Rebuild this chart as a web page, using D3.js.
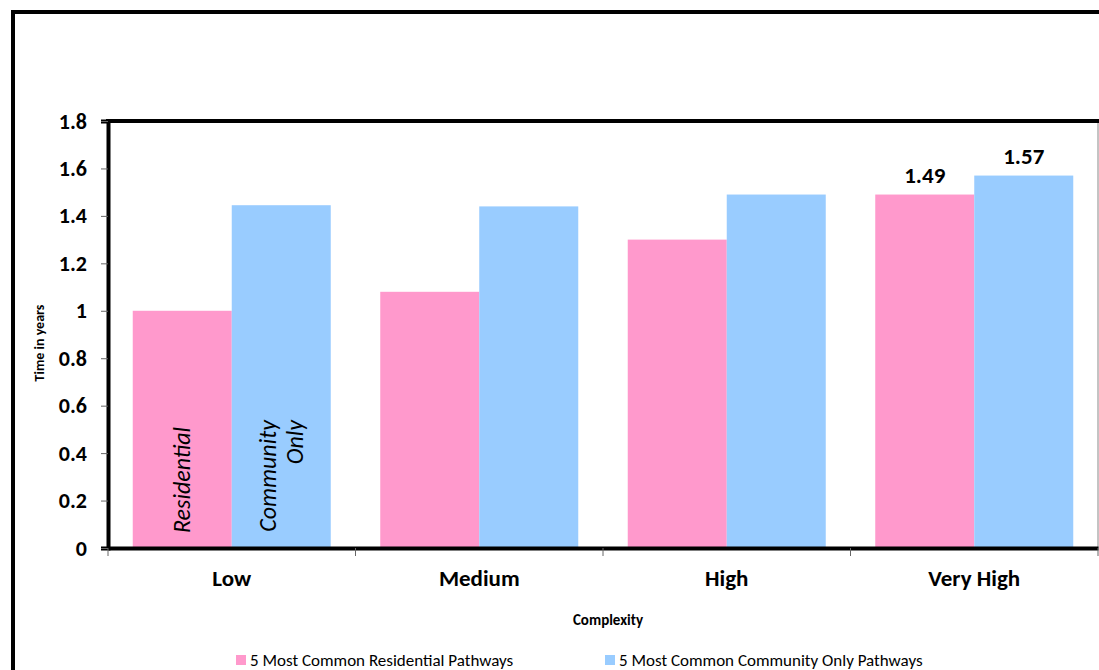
<!DOCTYPE html>
<html>
<head>
<meta charset="utf-8">
<script src="https://cdn.jsdelivr.net/npm/d3@7"></script>
<style>
  html, body { margin: 0; padding: 0; background: #fff; }
  svg { display: block; font-family: Carlito, Calibri, Lato, "Open Sans", sans-serif; }
</style>
</head>
<body>
<svg id="chart" width="1099" height="670"></svg>
<script>
// Complexity levels and mean time (years) for each pathway group
const categories = ["Low", "Medium", "High", "Very High"];
const residential = [1.00, 1.08, 1.30, 1.49];
const communityOnly = [1.445, 1.44, 1.49, 1.57];
const seriesNames = ["5 Most Common Residential Pathways", "5 Most Common Community Only Pathways"];
const seriesColors = ["#FF99CC", "#99CCFF"];
const yTicks = [0, 0.2, 0.4, 0.6, 0.8, 1, 1.2, 1.4, 1.6, 1.8];
// Only the "Very High" group carries value labels
const labelledCategory = "Very High";

const svg = d3.select("#chart");
const plot = { left: 108, right: 1098, top: 121, bottom: 548 };

const x0 = d3.scaleBand().domain(categories).range([plot.left, plot.right]).paddingInner(0).paddingOuter(0);
const x1 = d3.scaleBand().domain([0, 1]).range([0, x0.bandwidth()]).paddingOuter(0.25).paddingInner(0);
const y = d3.scaleLinear().domain([0, 1.8]).range([plot.bottom, plot.top]);

// Outer chart frame
svg.append("path")
  .attr("d", `M13,${670 + 10} L13,12 L${1099 + 10},12`)
  .attr("fill", "none").attr("stroke", "#000").attr("stroke-width", 4);

// Bars
const rows = categories.map((c, i) => ({ cat: c, vals: [residential[i], communityOnly[i]] }));
const groups = svg.append("g").selectAll("g").data(rows).join("g")
  .attr("transform", d => `translate(${x0(d.cat)},0)`);
groups.selectAll("rect").data(d => d.vals.map((v, k) => ({ v, k, cat: d.cat })))
  .join("rect")
  .attr("x", d => x1(d.k))
  .attr("width", x1.bandwidth())
  .attr("y", d => y(d.v))
  .attr("height", d => y(0) - y(d.v))
  .attr("fill", d => seriesColors[d.k]);

// Value labels
groups.selectAll("text.val").data(d => d.cat === labelledCategory ? d.vals.map((v, k) => ({ v, k })) : [])
  .join("text").attr("class", "val")
  .attr("x", d => x1(d.k) + x1.bandwidth() / 2)
  .attr("y", d => y(d.v) - 12)
  .attr("text-anchor", "middle")
  .attr("font-size", 23).attr("font-weight", "bold")
  .text(d => d3.format(".2f")(d.v));

// In-bar series captions for the first group
const firstX = x0(categories[0]);
svg.append("text")
  .attr("transform", `translate(${firstX + x1(0) + x1.bandwidth() / 2 + 8},533) rotate(-90)`)
  .attr("font-size", 24).attr("font-style", "italic")
  .text("Residential");
const comm = svg.append("text")
  .attr("transform", `translate(${firstX + x1(1) + x1.bandwidth() / 2 - 5},420) rotate(-90)`)
  .attr("font-size", 24).attr("font-style", "italic").attr("text-anchor", "end");
comm.append("tspan").attr("x", 0).attr("dy", 0).text("Community");
comm.append("tspan").attr("x", 0).attr("dy", 27).text("Only");

// Plot frame: right side thin grey
svg.append("line")
  .attr("x1", plot.right).attr("x2", plot.right).attr("y1", plot.top).attr("y2", plot.bottom)
  .attr("stroke", "#888").attr("stroke-width", 1);
svg.append("line")
  .attr("x1", plot.left - 2).attr("x2", plot.right + 1).attr("y1", plot.top).attr("y2", plot.top)
  .attr("stroke", "#000").attr("stroke-width", 4);

// Y axis
const yAxis = d3.axisLeft(y).tickValues(yTicks).tickSize(7).tickPadding(14)
  .tickFormat(d => d3.format("~g")(d));
const gy = svg.append("g").attr("transform", `translate(${plot.left},0)`).call(yAxis);
gy.select(".domain").attr("stroke", "#000").attr("stroke-width", 4);
gy.selectAll(".tick line").attr("stroke", "#666").attr("stroke-width", 1);
gy.selectAll(".tick text").attr("font-size", 22).attr("font-weight", "bold")
  .attr("fill", "#000").attr("font-family", "Carlito, Calibri, Lato, sans-serif");

// X axis
const xAxis = d3.axisBottom(x0).tickSize(0).tickPadding(22);
const gx = svg.append("g").attr("transform", `translate(0,${plot.bottom})`).call(xAxis);
gx.select(".domain").attr("stroke", "#000").attr("stroke-width", 4);
gx.selectAll(".tick text").attr("font-size", 23).attr("font-weight", "bold")
  .attr("fill", "#000").attr("font-family", "Carlito, Calibri, Lato, sans-serif");
// Category boundary ticks
const bounds = categories.map(c => x0(c)).concat([x0.range()[1]]);
svg.append("g").selectAll("line").data(bounds).join("line")
  .attr("x1", d => d).attr("x2", d => d)
  .attr("y1", plot.bottom).attr("y2", plot.bottom + 8)
  .attr("stroke", "#666").attr("stroke-width", 1);

// Axis titles
svg.append("text")
  .attr("x", 608).attr("y", 625)
  .attr("text-anchor", "middle").attr("font-size", 15).attr("font-weight", "bold")
  .text("Complexity");
svg.append("text")
  .attr("transform", "translate(44,343) rotate(-90)")
  .attr("text-anchor", "middle").attr("font-size", 14).attr("font-weight", "bold")
  .text("Time in years");

// Legend
const legendX = [236, 605];
const legend = svg.append("g").selectAll("g").data(seriesNames).join("g")
  .attr("transform", (d, i) => `translate(${legendX[i]},655)`);
legend.append("rect").attr("x", 0).attr("y", 0).attr("width", 10).attr("height", 10)
  .attr("fill", (d, i) => seriesColors[i]);
legend.append("text").attr("x", 14).attr("y", 11)
  .attr("font-size", 17).attr("fill", "#000")
  .text(d => d);
</script>
</body>
</html>
